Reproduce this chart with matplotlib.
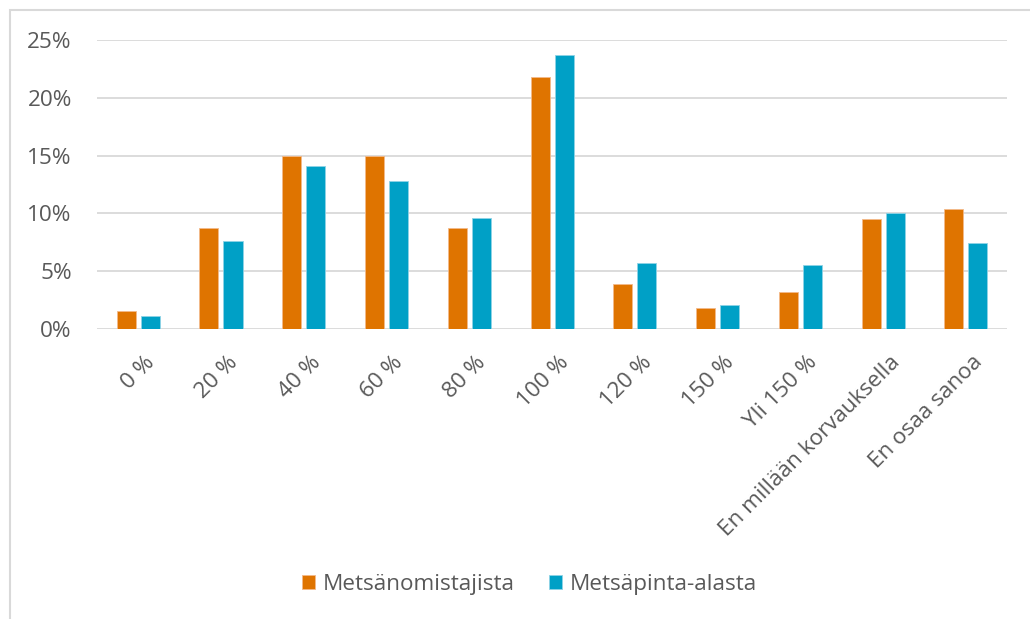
import numpy as np
import matplotlib.pyplot as plt
import matplotlib.transforms as mtransforms
from matplotlib.patches import Rectangle
from matplotlib.ticker import FuncFormatter

plt.rcParams['font.family'] = ['Open Sans', 'DejaVu Sans']

categories = ['0 %', '20 %', '40 %', '60 %', '80 %', '100 %', '120 %', '150 %',
              'Yli 150 %', 'En millään korvauksella', 'En osaa sanoa']
omistajat = [1.5, 8.7, 15.0, 15.0, 8.7, 21.8, 3.9, 1.8, 3.2, 9.5, 10.4]
pinta_ala = [1.1, 7.6, 14.1, 12.8, 9.6, 23.7, 5.7, 2.05, 5.5, 10.0, 7.4]

orange = '#DF7400'
blue = '#00A0C6'
txt = '#595959'
fs = 16.2

fig = plt.figure(figsize=(10.3, 6.19), dpi=100)
ax = fig.add_axes([0.094, 0.469, 0.884, 0.466])

x = np.arange(len(categories))
w = 0.23
ax.bar(x - 0.145, omistajat, w, color=orange, edgecolor='#F3B98A', linewidth=0.6,
       label='Metsänomistajista', zorder=3)
ax.bar(x + 0.145, pinta_ala, w, color=blue, edgecolor='#8FD3E6', linewidth=0.6,
       label='Metsäpinta-alasta', zorder=3)

ax.set_xlim(-0.5, len(categories) - 0.5)
ax.set_ylim(0, 25)
ax.set_yticks(np.arange(0, 26, 5))
ax.yaxis.set_major_formatter(FuncFormatter(lambda v, p: f'{v:.0f}%'))
ax.grid(axis='y', color='#D9D9D9', linewidth=1.3, zorder=0)
for s in ax.spines.values():
    s.set_visible(False)
ax.tick_params(axis='y', length=0, pad=18, labelsize=fs, labelcolor=txt)
ax.tick_params(axis='x', length=0, pad=8, labelsize=fs, labelcolor=txt)
ax.set_xticks(x)
ax.set_xticklabels(categories, rotation=45, ha='right', va='top', rotation_mode='anchor')
shift = mtransforms.ScaledTranslation(6 / 100, -12 / 100, fig.dpi_scale_trans)
for lab in ax.get_xticklabels():
    lab.set_transform(lab.get_transform() + shift)

leg = fig.legend(loc='center', bbox_to_anchor=(0.514, 0.056), ncol=2, frameon=False,
                 fontsize=fs, handlelength=0.6, handleheight=0.6, handletextpad=0.35,
                 columnspacing=1.5)
for t in leg.get_texts():
    t.set_color(txt)

# outer frame
fig.patches.append(Rectangle((10 / 1030, -0.1), 1.2, (609 / 619) + 0.1,
                             transform=fig.transFigure, fill=False,
                             edgecolor='#D9D9D9', linewidth=1.5))

fig.savefig('out.png', dpi=100)
